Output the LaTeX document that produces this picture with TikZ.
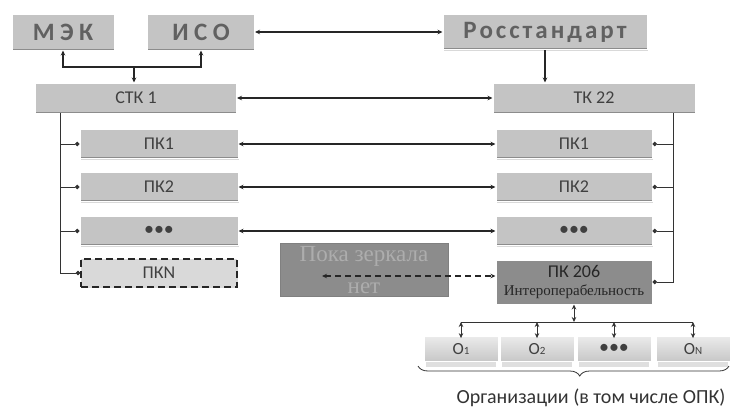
\documentclass[tikz,border=0pt]{standalone}
\usepackage{fontspec}
\setmainfont{Carlito}
\newfontfamily\spacedfont[LetterSpace=12]{Carlito}
\newfontfamily\serifpart{Liberation Serif}
\usetikzlibrary{arrows.meta,shadows,decorations.pathreplacing}

\tikzset{
  onetip/.style={-{Stealth[length=5pt,width=4.5pt]}},
  twotips/.style={{Stealth[length=5pt,width=4.5pt]}-{Stealth[length=5pt,width=4.5pt]}},
  dotend/.style={-{Circle[length=4.5pt]}},
  link/.style={very thick, draw=black!85},
  grbox/.style={draw=white, line width=1pt, fill=black!23, text=black!75, inner sep=0pt,
    font=\fontsize{18}{20}\selectfont,
    drop shadow={shadow xshift=0.8pt, shadow yshift=-1.2pt, opacity=0.3},
    path picture={\draw[black!45, line width=3pt] (path picture bounding box.south west) -- (path picture bounding box.south east);}},
  headbox/.style={grbox, text=black!62, font=\spacedfont\bfseries\fontsize{25}{27}\selectfont},
  orgbox/.style={draw=white, line width=0.8pt, top color=black!8, bottom color=black!22, text=black!75,
    inner sep=0pt, minimum width=74, minimum height=25, font=\fontsize{17}{18}\selectfont,
    drop shadow={shadow xshift=0pt, shadow yshift=-6pt, shadow scale=0.95, opacity=0.25}},
}

\begin{document}
\begin{tikzpicture}[x=1pt, y=-1pt]
\useasboundingbox (0,0) rectangle (731,410);
% upper level
\node[headbox, minimum width=102, minimum height=36] (iec) at (63,32) {\addfontfeature{LetterSpace=22}МЭК};
\node[headbox, minimum width=107, minimum height=36] (iso) at (201,32) {\addfontfeature{LetterSpace=22}ИСО};
\node[headbox, minimum width=204, minimum height=35] (gost) at (545,32) {Росстандарт};
\node[grbox, minimum width=201, minimum height=30] (stk) at (136,98) {СТК 1};
\node[grbox, minimum width=202, minimum height=30] (tk) at (594,98) {ТК 22};
% international subcommittees
\node[grbox, minimum width=158, minimum height=29] (pk1l) at (159,144) {ПК1};
\node[grbox, minimum width=158, minimum height=29] (pk2l) at (159,187) {ПК2};
\node[grbox, minimum width=158, minimum height=29, font=\fontsize{20}{20}\selectfont] (pkdl) at (159,231) {•••};
\node[grbox, fill=black!15, draw=black!85, dashed, dash pattern=on 7pt off 4pt, line width=1.6pt,
  minimum width=156, minimum height=28, path picture={}] (pkN) at (159,273) {ПКN};
% national subcommittees
\node[grbox, minimum width=156, minimum height=29] (pk1r) at (574,144) {ПК1};
\node[grbox, minimum width=156, minimum height=29] (pk2r) at (574,187) {ПК2};
\node[grbox, minimum width=156, minimum height=29, font=\fontsize{20}{20}\selectfont] (pkdr) at (574,231) {•••};
\node[grbox, fill=black!45, text=black!85, minimum width=156, minimum height=44, align=center]
  (pk206) at (574,282) {ПК 206\\[-2pt]{\serifpart\fontsize{15}{16}\selectfont Интероперабельность}};
\node[fill=black!45, draw=black!50, text=black!32, minimum width=168, minimum height=53, inner sep=0pt,
  align=center, font=\serifpart\fontsize{23}{32}\selectfont] (mirror) at (364,270) {Пока зеркала\\нет};
% organisations
\node[orgbox] (o1) at (461,349) {O{\fontsize{11}{12}\selectfont 1}};
\node[orgbox] (o2) at (537,349) {O{\fontsize{11}{12}\selectfont 2}};
\node[orgbox, font=\fontsize{20}{20}\selectfont] (od) at (614,349) {•••};
\node[orgbox] (on) at (693,349) {O{\fontsize{11}{12}\selectfont N}};
\node[text=black!80, font=\fontsize{20}{22}\selectfont] (orgs) at (591,398) {Организации (в том числе ОПК)};

\coordinate (fork) at (134,67);
\coordinate (lrail) at (60,113);
\coordinate (rrail) at (673,113);
\coordinate (mirrorend) at (322,276);
\coordinate (bus) at (574,322);

% links between committees
\draw[twotips, link] (iec.south) |- (fork) -| (iso.south);
\draw[onetip, link] (fork) -- (fork |- stk.north);
\draw[onetip, link] (gost.south) -- (gost.south |- tk.north);
\draw[twotips, link] (iso.east) -- (gost.west);
\draw[twotips, link] (stk.east) -- (tk.west);
\draw[twotips, link] (pk1l.east) -- (pk1r.west);
\draw[twotips, link] (pk2l.east) -- (pk2r.west);
\draw[twotips, link] (pkdl.east) -- (pkdr.west);
\draw[twotips, link, dash pattern=on 6pt off 4pt] (mirrorend) -- (mirrorend -| pk206.west);
% rails
\draw[dotend, thick, black!80] (lrail) |- (pkN.west);
\draw[dotend, thick, black!80] (lrail |- pk1l.west) -- (pk1l.west);
\draw[dotend, thick, black!80] (lrail |- pk2l.west) -- (pk2l.west);
\draw[dotend, thick, black!80] (lrail |- pkdl.west) -- (pkdl.west);
\draw[dotend, thick, black!80] (rrail) |- (pk206.east);
\draw[dotend, thick, black!80] (rrail |- pk1r.east) -- (pk1r.east);
\draw[dotend, thick, black!80] (rrail |- pk2r.east) -- (pk2r.east);
\draw[dotend, thick, black!80] (rrail |- pkdr.east) -- (pkdr.east);
% organisation bus
\draw[twotips, thick, black!80] (pk206.south) -- (bus);
\draw[thick, black!80] (bus -| o1.north) -- (bus -| on.north);
\draw[twotips, thick, black!80] (bus -| o1.north) -- ([yshift=-2pt]o1.north);
\draw[twotips, thick, black!80] (bus -| o2.north) -- ([yshift=-2pt]o2.north);
\draw[twotips, thick, black!80] (bus -| od.north) -- ([yshift=-2pt]od.north);
\draw[twotips, thick, black!80] (bus -| on.north) -- ([yshift=-2pt]on.north);
\draw[thick, black!80, decorate, decoration={brace, mirror, amplitude=10pt, aspect=0.52}]
  (418,366) -- (729,366);
\end{tikzpicture}
\end{document}
